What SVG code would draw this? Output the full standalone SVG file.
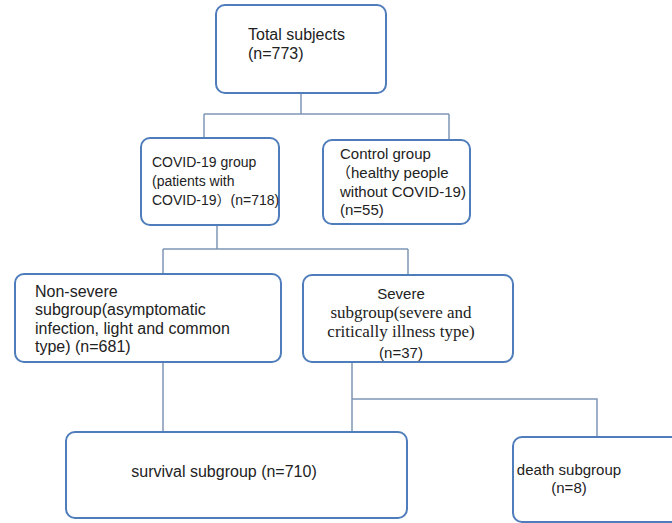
<svg xmlns="http://www.w3.org/2000/svg" width="672" height="523" viewBox="0 0 672 523">
<style>
.box{fill:#fff;stroke:#4f7cba;stroke-width:2}
.conn{fill:none;stroke:#7f95b6;stroke-width:1.5}
.t{font-family:"Liberation Sans","Noto Sans CJK SC",sans-serif;font-size:15px;fill:#222}
.s{font-family:"Liberation Serif",serif;font-size:17px;fill:#222}
.m{text-anchor:middle}
</style>
<rect width="672" height="523" fill="#fff"/>
<g id="connectors">
<path class="conn" d="M301 93V114M204 114H449M204 114V138M449 114V140"/>
<path class="conn" d="M217 225V249M163 249H408M163 249V274M408 249V275"/>
<path class="conn" d="M163 362V432"/>
<path class="conn" d="M352 362V435M352 399H597V437"/>
</g>
<g id="total">
<rect class="box" x="216" y="5" width="170" height="88" rx="9"/>
<text class="t" x="248" y="40" style="font-size:16px">Total subjects</text>
<text class="t" x="248" y="59" style="font-size:16px">(n=773)</text>
</g>
<g id="covid">
<rect class="box" x="141" y="138" width="138" height="87" rx="9"/>
<text class="t" x="152" y="167" style="font-size:14px">COVID-19 group</text>
<text class="t" x="152" y="186" style="font-size:14px">(patients with</text>
<text class="t" x="152" y="205" style="font-size:14px">COVID-19）(n=718)</text>
</g>
<g id="control">
<rect class="box" x="323" y="140" width="147" height="84" rx="9"/>
<text class="t" x="340" y="159">Control group</text>
<text class="t" x="336" y="178">（healthy people</text>
<text class="t" x="340" y="197">without COVID-19)</text>
<text class="t" x="340" y="215">(n=55)</text>
</g>
<g id="nonsevere">
<rect class="box" x="15" y="274" width="266" height="88" rx="9"/>
<text class="t" x="35" y="297" style="font-size:16px">Non-severe</text>
<text class="t" x="35" y="315" style="font-size:16px">subgroup(asymptomatic</text>
<text class="t" x="35" y="334" style="font-size:16px">infection, light and common</text>
<text class="t" x="35" y="352" style="font-size:16px">type) (n=681)</text>
</g>
<g id="severe">
<rect class="box" x="303" y="275" width="210" height="87" rx="9"/>
<text class="t m" x="401" y="299">Severe</text>
<text class="s m" x="401" y="318">subgroup(severe and</text>
<text class="s m" x="401" y="337">critically illness type)</text>
<text class="t m" x="401" y="358">(n=37)</text>
</g>
<g id="survival">
<rect class="box" x="66" y="432" width="341" height="86" rx="9"/>
<text class="t m" x="224" y="477" style="font-size:16px">survival subgroup (n=710)</text>
</g>
<g id="death">
<rect class="box" x="513" y="437" width="170" height="85" rx="9"/>
<text class="t m" x="569" y="475">death subgroup</text>
<text class="t m" x="569" y="493">(n=8)</text>
</g>
</svg>
